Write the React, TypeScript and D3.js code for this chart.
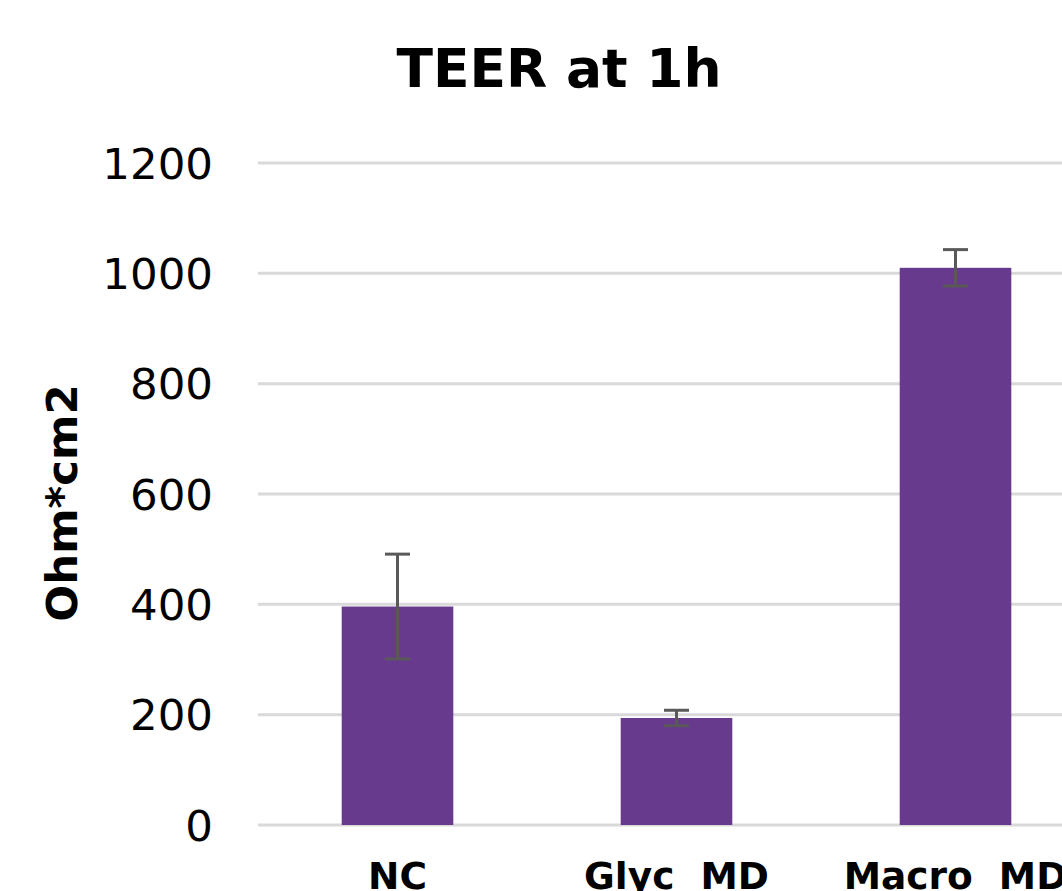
import React from "react";
import * as d3 from "d3";

const categories = ["NC", "Glyc  MD", "Macro  MD"];
const values = [396, 194, 1010];
const errors = [95, 14, 33];
const yTicks = [0, 200, 400, 600, 800, 1000, 1200];
const title = "TEER at 1h";
const yLabel = "Ohm*cm2";

export default function App() {
  const W = 1062, H = 891;
  const y = d3.scaleLinear().domain([0, 1200]).range([825, 163]);
  const x = d3.scaleBand<string>().domain(categories).range([258, 1095]).paddingInner(0.6).paddingOuter(0.3);
  const font = "Verdana, 'DejaVu Sans', sans-serif";
  const capW = 25;
  return (
    <svg width={W} height={H} style={{ position: "absolute", left: 0, top: 0, background: "#fff" }}>
      <rect x={0} y={0} width={W} height={H} fill="#fff" />
      <text x={559} y={87} textAnchor="middle" fontFamily={font} fontWeight="bold" fontSize={53.5} fill="#000">{title}</text>
      {yTicks.map((t) => (
        <g key={t}>
          <line x1={258} x2={W} y1={y(t)} y2={y(t)} stroke="#d9d9d9" strokeWidth={3} />
          <text x={213} y={y(t)} dy="0.36em" textAnchor="end" fontFamily={font} fontSize={43.5} fill="#000">{t}</text>
        </g>
      ))}
      <text transform={`translate(77,${503}) rotate(-90)`} textAnchor="middle" fontFamily={font} fontWeight="bold" fontSize={43.5} fill="#000">{yLabel}</text>
      {categories.map((c, i) => {
        const bx = x(c)!;
        const cx = bx + x.bandwidth() / 2;
        return (
          <g key={c}>
            <rect x={bx} y={y(values[i])} width={x.bandwidth()} height={y(0) - y(values[i])} fill="#673a8e" />
            <line x1={cx} x2={cx} y1={y(values[i] + errors[i])} y2={y(values[i] - errors[i])} stroke="#595959" strokeWidth={3} />
            <line x1={cx - capW / 2} x2={cx + capW / 2} y1={y(values[i] + errors[i])} y2={y(values[i] + errors[i])} stroke="#595959" strokeWidth={3} />
            <line x1={cx - capW / 2} x2={cx + capW / 2} y1={y(values[i] - errors[i])} y2={y(values[i] - errors[i])} stroke="#595959" strokeWidth={3} />
            <text x={cx} y={889} textAnchor="middle" fontFamily={font} fontWeight="bold" fontSize={37.5} fill="#000" style={{ whiteSpace: "pre" }}>{c}</text>
          </g>
        );
      })}
    </svg>
  );
}
